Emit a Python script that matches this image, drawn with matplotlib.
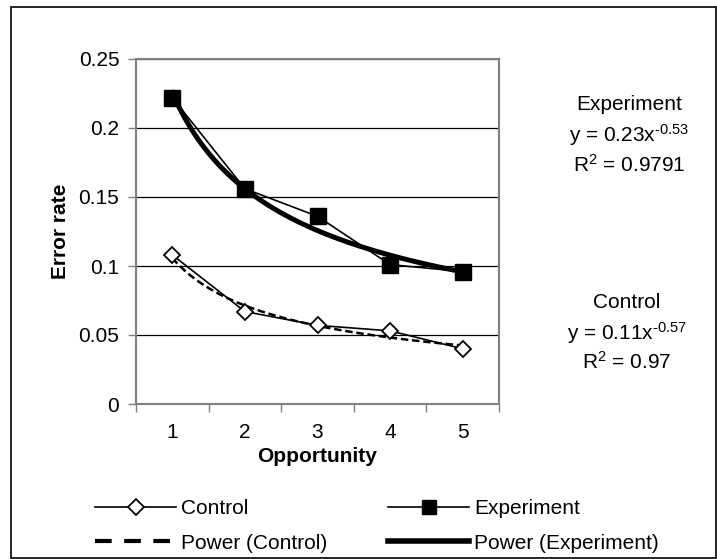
import numpy as np
import matplotlib
matplotlib.use("Agg")
import matplotlib.pyplot as plt
from matplotlib.lines import Line2D
from matplotlib.patches import Rectangle

plt.rcParams['font.family'] = ['Liberation Sans', 'DejaVu Sans']
plt.rcParams['mathtext.fontset'] = 'custom'
plt.rcParams['mathtext.rm'] = 'Liberation Sans'
plt.rcParams['mathtext.it'] = 'Liberation Sans'

# data
opportunity = [1, 2, 3, 4, 5]
control = [0.108, 0.067, 0.057, 0.053, 0.040]
experiment = [0.222, 0.156, 0.136, 0.101, 0.096]
y_ticks = [0, 0.05, 0.1, 0.15, 0.2, 0.25]
y_tick_labels = ['0', '0.05', '0.1', '0.15', '0.2', '0.25']

FS = 15


def power_fit(x, y):
    # least squares in log-log space, like a spreadsheet power trendline
    b, a = np.polyfit(np.log(x), np.log(y), 1)
    xs = np.linspace(min(x), max(x), 100)
    return xs, np.exp(a) * xs ** b


fig = plt.figure(figsize=(7.17, 5.59), dpi=100)
ax = fig.add_axes([136 / 717, 155 / 559, 363 / 717, 345 / 559])

xc, yc = power_fit(opportunity, control)
xe, ye = power_fit(opportunity, experiment)

ax.plot(xc, yc, color='black', lw=1.8, ls=(0, (3, 1.5)), zorder=3)
ax.plot(xe, ye, color='black', lw=3.6, zorder=3)
ax.plot(opportunity, control, color='black', lw=1.2, marker='D', ms=8.5,
        mfc='white', mec='black', mew=1.3, zorder=4)
ax.plot(opportunity, experiment, color='black', lw=1.2, marker='s', ms=11,
        mfc='black', mec='black', zorder=4)

ax.set_xlim(0.5, 5.5)
ax.set_ylim(0, 0.25)
ax.set_yticks(y_ticks)
ax.set_yticklabels(y_tick_labels)
ax.set_xticks(opportunity)
ax.set_xticks(np.arange(0.5, 6, 1), minor=True)
ax.tick_params(axis='x', which='major', length=0, pad=14, labelsize=FS)
ax.tick_params(axis='x', which='minor', length=6, width=1, color='#808080', direction='out')
ax.tick_params(axis='y', length=6, width=1, color='#808080', direction='out', pad=6, labelsize=FS)
ax.yaxis.grid(True, color='black', lw=0.9)
ax.set_axisbelow(True)
for s in ax.spines.values():
    s.set_color('#808080')
    s.set_linewidth(1.5)

ax.set_xlabel('Opportunity', fontsize=FS, fontweight='bold', labelpad=3)
ax.set_ylabel('Error rate', fontsize=FS, fontweight='bold', labelpad=6)

# trendline equations
fig.text(629 / 717, 1 - 105 / 559, 'Experiment', ha='center', va='center', fontsize=FS)
fig.text(629 / 717, 1 - 135 / 559, 'y = 0.23x$^{\u20100.53}$', ha='center', va='center', fontsize=FS)
fig.text(629 / 717, 1 - 165 / 559, 'R$^{2}$ = 0.9791', ha='center', va='center', fontsize=FS)
fig.text(627 / 717, 1 - 302 / 559, 'Control', ha='center', va='center', fontsize=FS)
fig.text(627 / 717, 1 - 333 / 559, 'y = 0.11x$^{\u20100.57}$', ha='center', va='center', fontsize=FS)
fig.text(627 / 717, 1 - 362 / 559, 'R$^{2}$ = 0.97', ha='center', va='center', fontsize=FS)

# legend, two columns
h_ctrl = Line2D([], [], color='black', lw=1.2, marker='D', ms=8, mfc='white', mec='black', mew=1.3)
h_pctrl = Line2D([], [], color='black', lw=3, ls=(0, (4, 3)))
h_exp = Line2D([], [], color='black', lw=1.2, marker='s', ms=10, mfc='black', mec='black')
h_pexp = Line2D([], [], color='black', lw=4)

leg_kw = dict(frameon=False, fontsize=FS, handlelength=3.9, handletextpad=0.25,
              labelspacing=0.75, borderpad=0, borderaxespad=0, loc='upper left')
leg1 = fig.legend([h_ctrl, h_pctrl], ['Control', 'Power (Control)'],
                  bbox_to_anchor=(95 / 717, 1 - 499 / 559), **leg_kw)
leg2 = fig.legend([h_exp, h_pexp], ['Experiment', 'Power (Experiment)'],
                  bbox_to_anchor=(388 / 717, 1 - 499 / 559), **leg_kw)

# outer chart border
fig.patches.append(Rectangle((11 / 717, 1 / 559), 705 / 717, 551 / 559,
                             transform=fig.transFigure, fill=False,
                             edgecolor='black', lw=1.2))

fig.savefig('out.png', dpi=100)
